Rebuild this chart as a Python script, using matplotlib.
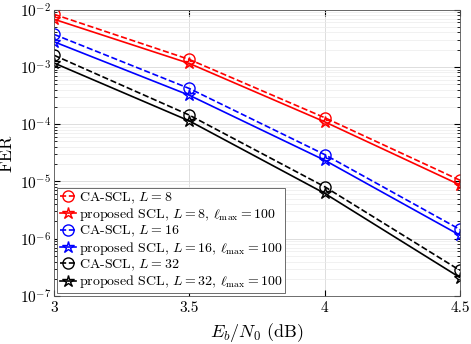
import matplotlib
matplotlib.use("Agg")
import matplotlib.pyplot as plt
import numpy as np

plt.rcParams['font.family'] = ['cmr10', 'DejaVu Serif']
plt.rcParams['mathtext.fontset'] = 'cm'
plt.rcParams['axes.formatter.use_mathtext'] = True

ebn0 = [3.0, 3.5, 4.0, 4.5]
ca_scl_8 = [8.3e-3, 1.35e-3, 1.3e-4, 1.05e-5]
prop_8 = [6.8e-3, 1.15e-3, 1.1e-4, 8.7e-6]
ca_scl_16 = [3.7e-3, 4.2e-4, 2.95e-5, 1.45e-6]
prop_16 = [2.75e-3, 3.2e-4, 2.35e-5, 1.15e-6]
ca_scl_32 = [1.6e-3, 1.44e-4, 8.1e-6, 2.8e-7]
prop_32 = [1.17e-3, 1.14e-4, 6.2e-6, 2.1e-7]

labels = [r'CA-SCL, $L=8$',
          r'proposed SCL, $L=8$, $\ell_{\max}=100$',
          r'CA-SCL, $L=16$',
          r'proposed SCL, $L=16$, $\ell_{\max}=100$',
          r'CA-SCL, $L=32$',
          r'proposed SCL, $L=32$, $\ell_{\max}=100$']

fig = plt.figure(figsize=(4.71, 3.44), dpi=100)
ax = fig.add_axes([0.1146, 0.1395, 0.862, 0.8325])

series = [(ca_scl_8, 'r', '--', 'o'), (prop_8, 'r', '-', '*'),
          (ca_scl_16, 'b', '--', 'o'), (prop_16, 'b', '-', '*'),
          (ca_scl_32, 'k', '--', 'o'), (prop_32, 'k', '-', '*')]
for (vals, c, ls, m), lab in zip(series, labels):
    ax.semilogy(ebn0, vals, color=c, ls=ls, marker=m,
                ms=8 if m == 'o' else 9, mfc='none',
                mew=1.0, lw=1.2, label=lab)

ax.set_xlim(3, 4.5)
ax.set_ylim(1e-7, 1e-2)
ax.set_xticks([3, 3.5, 4, 4.5])
ax.set_xticklabels(['3', '3.5', '4', '4.5'])
ax.grid(True, which='major', color='#d8d8d8', lw=0.6)
ax.grid(True, which='minor', color='#ececec', lw=0.5)
ax.tick_params(which='both', direction='in', top=True, right=True, labelsize=11)
ax.tick_params(axis='x', which='major', length=4, pad=4)
ax.tick_params(axis='y', which='major', length=4, pad=2)
ax.tick_params(which='minor', length=2)
for s in ax.spines.values():
    s.set_color('#555555')
    s.set_linewidth(0.6)
ax.set_xlabel(r'$E_b/N_0$ (dB)', fontsize=13, labelpad=4)
ax.set_ylabel('FER', fontsize=13)
ax.yaxis.set_label_coords(-0.097, 0.5)

leg = ax.legend(loc='lower left', fontsize=10, handlelength=1.2,
                handletextpad=0.2, labelspacing=0.05, borderpad=0.2,
                borderaxespad=0.2, fancybox=False, framealpha=1,
                edgecolor='#555555')
leg.get_frame().set_linewidth(0.6)

fig.savefig('out.png', dpi=100)
